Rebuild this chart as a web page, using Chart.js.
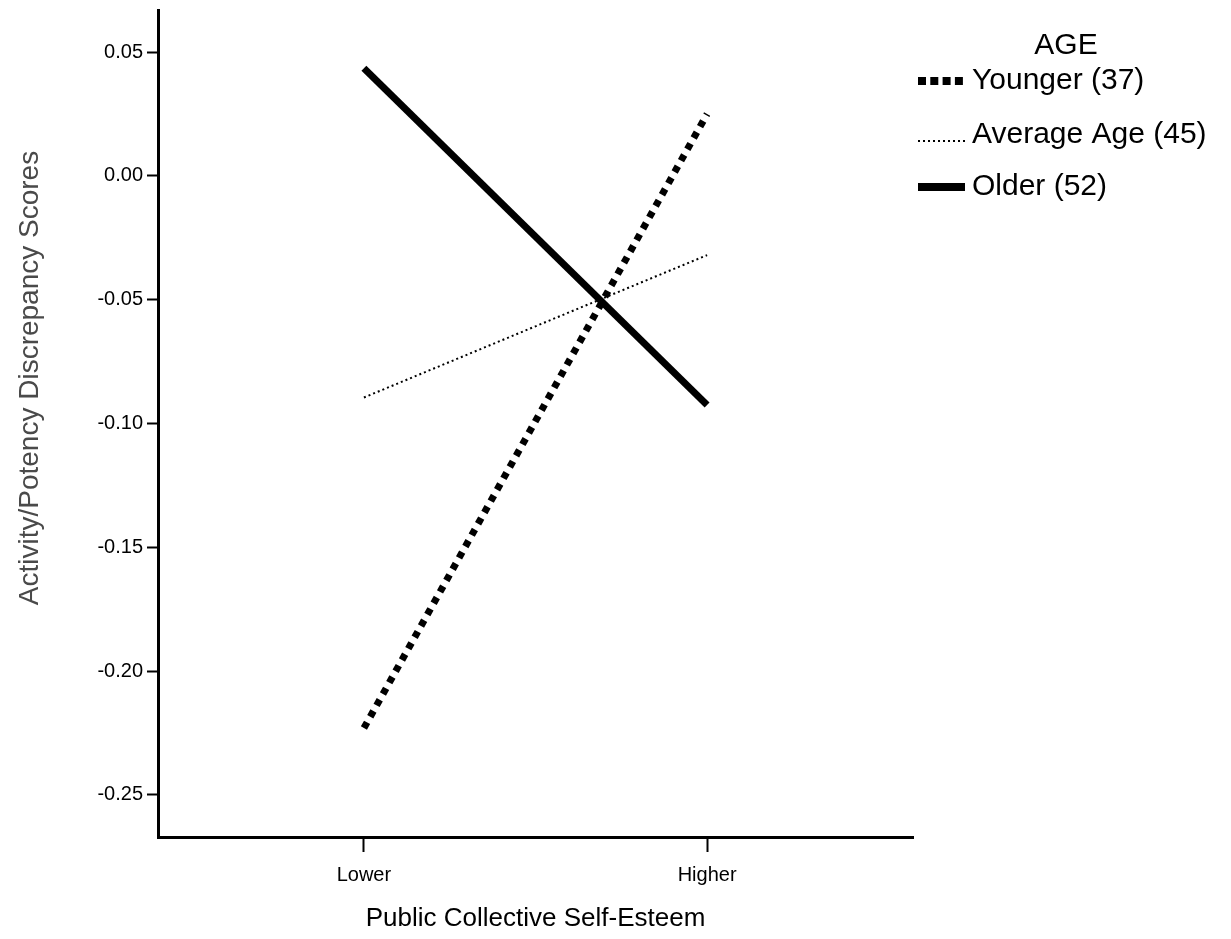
<!DOCTYPE html>
<html>
<head>
<meta charset="utf-8">
<script src="https://cdn.jsdelivr.net/npm/chart.js@4.4.1/dist/chart.umd.min.js"></script>
<style>
  html, body { margin: 0; padding: 0; background: #fff; }
  #wrap { width: 1231px; height: 939px; }
</style>
</head>
<body>
<div id="wrap"><canvas id="c" width="1231" height="939"></canvas></div>
<script>
// Public collective self-esteem levels on the horizontal axis
const categories = ['Lower', 'Higher'];

// Simple slopes of activity/potency discrepancy by age group
const youngerValues = [-0.223, 0.025];
const averageValues = [-0.0895, -0.032];
const olderValues = [0.0435, -0.0925];

const seriesLabels = ['Younger (37)', 'Average Age (45)', 'Older (52)'];
const yTickValues = [-0.25, -0.20, -0.15, -0.10, -0.05, 0.00, 0.05];

const legendTitle = 'AGE';
const xTitle = 'Public Collective Self-Esteem';
const yTitle = 'Activity/Potency Discrepancy Scores';

const FONT = '"Liberation Sans", Arial, sans-serif';

function toPoints(values) {
  return values.map((v, i) => ({ x: i + 1, y: v }));
}

// White page behind the plot
const background = {
  id: 'background',
  beforeDraw(chart) {
    const ctx = chart.ctx;
    ctx.save();
    ctx.fillStyle = '#fff';
    ctx.fillRect(0, 0, chart.width, chart.height);
    ctx.restore();
  }
};

// Vertical axis title, placed a little above the axis midpoint
const yAxisTitle = {
  id: 'yAxisTitle',
  afterDraw(chart) {
    const ctx = chart.ctx;
    ctx.save();
    ctx.translate(30, 378);
    ctx.rotate(-Math.PI / 2);
    ctx.font = '28px ' + FONT;
    ctx.fillStyle = '#4a4a4a';
    ctx.textAlign = 'center';
    ctx.textBaseline = 'middle';
    ctx.fillText(yTitle, 0, 0);
    ctx.restore();
  }
};

// Legend with a heading and line samples in each dataset's stroke style
const ageLegend = {
  id: 'ageLegend',
  afterDraw(chart) {
    const ctx = chart.ctx;
    ctx.save();
    ctx.fillStyle = '#000';
    ctx.font = '30px ' + FONT;
    ctx.textBaseline = 'middle';
    ctx.textAlign = 'center';
    ctx.fillText(legendTitle, 1066, 46);
    const rowY = [81, 135, 187];
    const sampleDash = [[8, 4.3], [2, 3], []];
    const sampleWidth = [8, 2, 8];
    chart.data.datasets.forEach((ds, i) => {
      const y = rowY[i];
      ctx.save();
      ctx.strokeStyle = ds.borderColor;
      ctx.lineWidth = sampleWidth[i];
      ctx.lineCap = 'butt';
      ctx.setLineDash(sampleDash[i]);
      ctx.beginPath();
      ctx.moveTo(918, i === 1 ? y + 6 : y);
      ctx.lineTo(965, i === 1 ? y + 6 : y);
      ctx.stroke();
      ctx.restore();
      ctx.textAlign = 'left';
      ctx.fillText(ds.label, 972, y);
    });
    ctx.restore();
  }
};

const chart = new Chart(document.getElementById('c'), {
  type: 'line',
  data: {
    datasets: [
      {
        label: seriesLabels[0],
        data: toPoints(youngerValues),
        borderColor: '#000',
        borderWidth: 7,
        borderDash: [6.5, 6.5],
        borderCapStyle: 'butt',
        pointRadius: 0,
        tension: 0
      },
      {
        label: seriesLabels[1],
        data: toPoints(averageValues),
        borderColor: '#000',
        borderWidth: 2,
        borderDash: [2, 3],
        borderCapStyle: 'butt',
        pointRadius: 0,
        tension: 0
      },
      {
        label: seriesLabels[2],
        data: toPoints(olderValues),
        borderColor: '#000',
        borderWidth: 7,
        borderCapStyle: 'butt',
        pointRadius: 0,
        tension: 0
      }
    ]
  },
  options: {
    responsive: false,
    animation: false,
    layout: { padding: { top: 10, right: 318, bottom: 0, left: 0 } },
    plugins: {
      legend: { display: false },
      tooltip: { enabled: false }
    },
    scales: {
      x: {
        type: 'linear',
        position: 'bottom',
        min: 0.4,
        max: 2.6,
        afterBuildTicks(scale) {
          scale.ticks = categories.map((_, i) => ({ value: i + 1 }));
        },
        afterFit(scale) { scale.height = 102; },
        ticks: {
          callback: (v) => categories[v - 1] || '',
          color: '#000',
          font: { family: FONT, size: 20 },
          padding: 11,
          maxRotation: 0
        },
        grid: {
          display: true,
          drawOnChartArea: false,
          drawTicks: true,
          tickLength: 15,
          tickWidth: 2,
          tickColor: '#000'
        },
        border: { display: true, color: '#000', width: 3 },
        title: {
          display: true,
          text: xTitle,
          color: '#000',
          font: { family: FONT, size: 26 },
          padding: { top: 0, bottom: 5 }
        }
      },
      y: {
        type: 'linear',
        min: -0.267,
        max: 0.067,
        afterBuildTicks(scale) {
          scale.ticks = yTickValues.map((v) => ({ value: v }));
        },
        afterFit(scale) {
          scale.width = 158;
          scale.paddingTop = 0;
          scale.paddingBottom = 0;
        },
        ticks: {
          callback: (v) => Number(v).toFixed(2),
          color: '#000',
          font: { family: FONT, size: 20 },
          padding: 4
        },
        grid: {
          display: true,
          drawOnChartArea: false,
          drawTicks: true,
          tickLength: 11,
          tickWidth: 2,
          tickColor: '#000'
        },
        border: { display: true, color: '#000', width: 3 },
        title: { display: false }
      }
    }
  },
  plugins: [background, yAxisTitle, ageLegend]
});
</script>
</body>
</html>
